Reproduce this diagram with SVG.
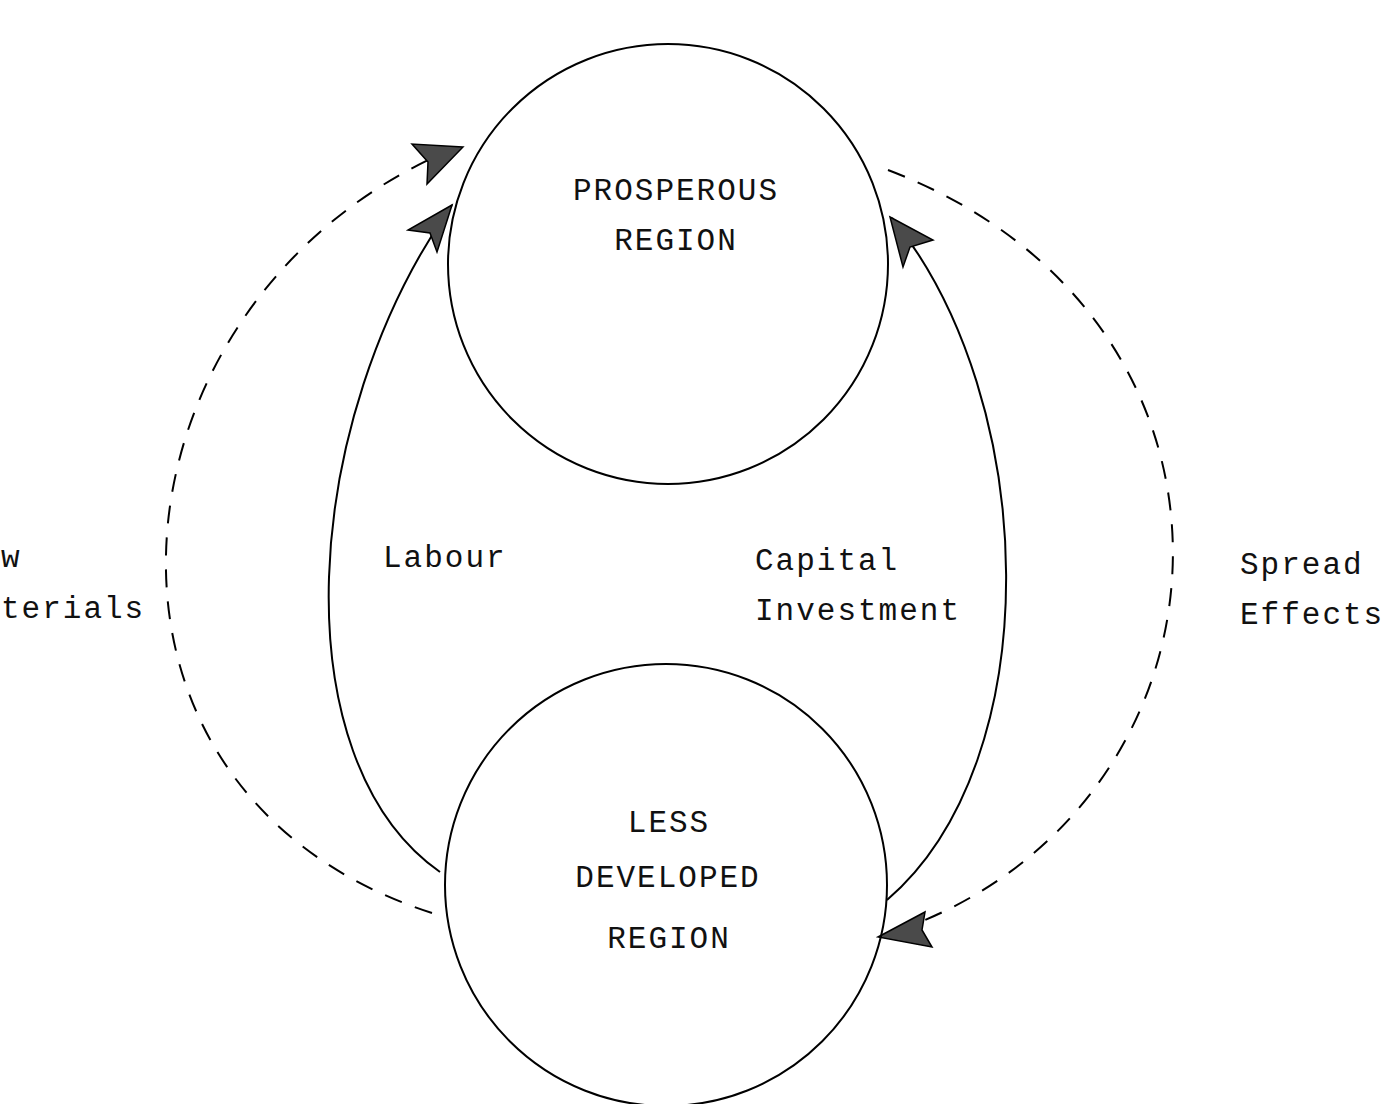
<svg xmlns="http://www.w3.org/2000/svg" width="1384" height="1104" viewBox="0 0 1384 1104">
<style>
.node{fill:none;stroke:#000;stroke-width:2}
.t{font-family:"Liberation Mono","Courier New",monospace;font-size:31px;letter-spacing:2px;fill:#111}
.tc{text-anchor:middle}
.solid{fill:none;stroke:#000;stroke-width:2}
.dash{fill:none;stroke:#000;stroke-width:2;stroke-dasharray:18 14}
.head{fill:#4a4a4a;stroke:#000;stroke-width:1.5;stroke-linejoin:miter}
</style>
<rect width="1384" height="1104" fill="#fff"/>
<g id="connectors">
<path id="labour" class="solid" d="M440,872 C280,760 300,420 452,205"/>
<path id="capital" class="solid" d="M887,900 C1050,760 1040,400 892,218"/>
<path id="raw" class="dash" d="M432,913 C50,790 100,300 450,150"/>
<path id="spread" class="dash" d="M888,170 C1280,320 1250,800 905,928"/>
<polygon class="head" points="463,147 412,144 428,162 427,184"/>
<polygon class="head" points="452,205 408,230 430,233 437,252"/>
<polygon class="head" points="890,217 933,240 910,247 903,267"/>
<polygon class="head" points="878,937 925,912 922,930 932,947"/>
</g>
<g id="prosperous">
<circle class="node" cx="668" cy="264" r="220"/>
<text class="t tc" x="676" y="200">PROSPEROUS</text>
<text class="t tc" x="676" y="250">REGION</text>
</g>
<g id="less-developed">
<circle class="node" cx="666" cy="885" r="221"/>
<text class="t tc" x="669" y="832">LESS</text>
<text class="t tc" x="668" y="887">DEVELOPED</text>
<text class="t tc" x="669" y="948">REGION</text>
</g>
<g id="labels">
<text class="t" x="383" y="567">Labour</text>
<text class="t" x="755" y="570">Capital</text>
<text class="t" x="755" y="620">Investment</text>
<text class="t" x="1240" y="574">Spread</text>
<text class="t" x="1240" y="624">Effects</text>
<text class="t" x="1" y="567">w</text>
<text class="t" x="1" y="618">terials</text>
</g>
</svg>
